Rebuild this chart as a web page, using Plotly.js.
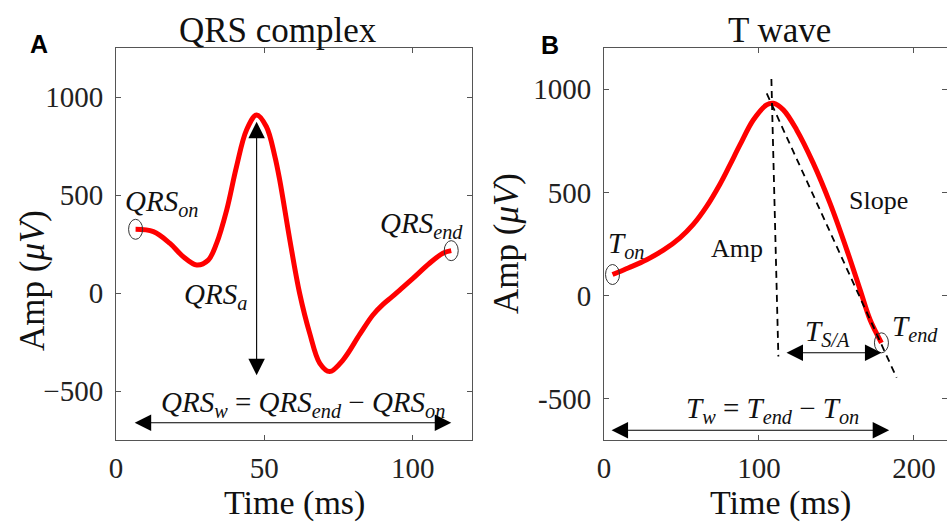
<!DOCTYPE html>
<html>
<head>
<meta charset="utf-8">
<script src="https://cdn.plot.ly/plotly-3.0.1.min.js"></script>
<style>html,body{margin:0;padding:0;background:#fff;}#chart{width:947px;height:525px;}</style>
</head>
<body>
<div id="chart"></div>
<script>
// ---- Data ----
// Panel A: QRS complex
const qrsTime = [6.6, 12.6, 18.2, 22.7, 27.2, 31.1, 33.9, 37.3, 40.6, 44, 47.4, 50.7, 53.5, 55.2, 58.6, 61.9, 65.3, 68.7, 72, 76.5, 82.2, 86.6, 90, 93, 96, 100.1, 105.7, 110.2, 113];
const qrsAmp  = [325, 313, 253, 185, 143, 168, 253, 423, 644, 832, 908, 848, 700, 575, 270, -2, -206, -359, -401, -342, -210, -112, -58, -20, 20, 75, 152, 203, 216];
// Panel B: T wave
const tTime = [5.5, 16, 27.5, 38.3, 49, 57.6, 66, 74.8, 81, 87.7, 96.3, 104.9, 109.2, 115.7, 124.3, 135, 145.8, 156.6, 165.2, 171.6, 179];
const tAmp  = [102, 135, 174, 220, 280, 345, 430, 540, 630, 730, 851, 924, 932, 900, 803, 642, 448, 223, 29, -116, -229];
// Construction lines (panel B)
const ampLineTime = [108, 112.5];
const ampLineAmp  = [1050, -295];
const slopeLineTime = [105, 188.8];
const slopeLineAmp  = [980, -398];
// Measurement arrows
const qrsAArrowTime = 47.4,  qrsAArrowAmp = [874, -427];
const qrsWArrowAmp = -662,   qrsWArrowTime = [5.8, 113];
const tSAArrowAmp = -277,    tSAArrowTime = [116.8, 179];
const tWArrowAmp = -653,     tWArrowTime = [3.9, 184];
// Ticks
const qrsXTicks = [0, 50, 100];
const tXTicks = [0, 100, 200];
const yTicks = [-500, 0, 500, 1000];
const qrsYTickText = ['\u2212500', '0', '500', '1000'];
const tYTickText = ['-500', '0', '500', '1000'];

const SERIF = '"Liberation Serif", "Times New Roman", serif';
const AX = '#555555';

const traces = [
  {x: qrsTime, y: qrsAmp, xaxis: 'x', yaxis: 'y', mode: 'lines',
   line: {color: '#ff0000', width: 5, shape: 'spline', smoothing: 1}, hoverinfo: 'skip'},
  {x: tTime, y: tAmp, xaxis: 'x2', yaxis: 'y2', mode: 'lines',
   line: {color: '#ff0000', width: 5, shape: 'spline', smoothing: 1}, hoverinfo: 'skip'},
  {x: ampLineTime, y: ampLineAmp, xaxis: 'x2', yaxis: 'y2', mode: 'lines',
   line: {color: '#000', width: 1.8, dash: '7px,5px'}, hoverinfo: 'skip'},
  {x: slopeLineTime, y: slopeLineAmp, xaxis: 'x2', yaxis: 'y2', mode: 'lines',
   line: {color: '#000', width: 1.8, dash: '7px,5px'}, hoverinfo: 'skip'}
];

function axisCommon(extra) {
  return Object.assign({
    showline: true, mirror: 'ticks', linecolor: AX, linewidth: 1,
    ticks: 'inside', ticklen: 5, tickcolor: AX, tickwidth: 1,
    showgrid: false, zeroline: false, fixedrange: true,
    tickfont: {family: SERIF, size: 29, color: '#222'}
  }, extra);
}

const px = (p) => p / 947;
const py = (p) => 1 - p / 525;

function arrow(xref, yref, x, y, ax, ay) {
  return {xref: xref, yref: yref, axref: xref, ayref: yref, x: x, y: y, ax: ax, ay: ay,
    text: '', showarrow: true, arrowhead: 2, arrowside: 'end+start', arrowsize: 3,
    arrowwidth: 1.1, arrowcolor: '#000', standoff: 0, startstandoff: 0};
}
function label(xref, yref, x, y, text, size, extra) {
  return Object.assign({xref: xref, yref: yref, x: x, y: y, text: text, showarrow: false,
    font: {family: SERIF, size: size, color: '#111'}, xanchor: 'center', yanchor: 'middle'}, extra || {});
}

const annotations = [
  // panel letters
  {xref: 'paper', yref: 'paper', x: px(28), y: py(28), text: '<b>A</b>', showarrow: false,
   font: {family: '"Liberation Sans", Arial, sans-serif', size: 25, color: '#000'}},
  {xref: 'paper', yref: 'paper', x: px(550), y: py(29), text: '<b>B</b>', showarrow: false,
   font: {family: '"Liberation Sans", Arial, sans-serif', size: 25, color: '#000'}},
  // titles
  label('paper', 'paper', px(277.5), py(30), 'QRS complex', 35),
  label('paper', 'paper', px(779), py(30), 'T wave', 35),
  // axis titles
  label('paper', 'paper', px(294), py(503), 'Time (ms)', 34),
  label('paper', 'paper', px(780), py(503), 'Time (ms)', 34),
  label('paper', 'paper', px(32), py(281), 'Amp (<i>\u03bcV</i>)', 35, {textangle: -90}),
  label('paper', 'paper', px(507), py(244), 'Amp (<i>\u03bcV</i>)', 35, {textangle: -90}),
  // panel A labels
  label('x', 'y', 2.4, 459, '<i>QRS</i><sub><i>on</i></sub>', 29, {xanchor: 'left'}),
  label('x', 'y', 117.5, 347, '<i>QRS</i><sub><i>end</i></sub>', 29, {xanchor: 'right'}),
  label('x', 'y', 33.5, -15, '<i>QRS</i><sub><i>a</i></sub>', 29),
  label('x', 'y', 63.1, -566, '<i>QRS</i><sub><i>w</i></sub> = <i>QRS</i><sub><i>end</i></sub> \u2212 <i>QRS</i><sub><i>on</i></sub>', 29),
  // panel B labels
  label('x2', 'y2', 13.9, 247, '<i>T</i><sub><i>on</i></sub>', 29),
  label('x2', 'y2', 86.1, 227, 'Amp', 26),
  label('x2', 'y2', 176.8, 460, 'Slope', 26),
  label('x2', 'y2', 144.2, -179, '<i>T</i><sub><i>S/A</i></sub>', 29),
  label('x2', 'y2', 200.6, -155, '<i>T</i><sub><i>end</i></sub>', 29),
  label('x2', 'y2', 108.7, -556, '<i>T</i><sub><i>w</i></sub> = <i>T</i><sub><i>end</i></sub> \u2212 <i>T</i><sub><i>on</i></sub>', 29),
  // arrows
  arrow('x', 'y', qrsAArrowTime, qrsAArrowAmp[0], qrsAArrowTime, qrsAArrowAmp[1]),
  arrow('x', 'y', qrsWArrowTime[1], qrsWArrowAmp, qrsWArrowTime[0], qrsWArrowAmp),
  arrow('x2', 'y2', tSAArrowTime[1], tSAArrowAmp, tSAArrowTime[0], tSAArrowAmp),
  arrow('x2', 'y2', tWArrowTime[1], tWArrowAmp, tWArrowTime[0], tWArrowAmp)
];

function ring(xref, yref, x, y) {
  return {type: 'circle', xref: xref, yref: yref, xsizemode: 'pixel', ysizemode: 'pixel',
    xanchor: x, yanchor: y, x0: -7, x1: 7, y0: -10, y1: 10,
    line: {color: '#333', width: 1}, fillcolor: 'rgba(0,0,0,0)'};
}
const shapes = [
  ring('x', 'y', qrsTime[0], qrsAmp[0]),
  ring('x', 'y', qrsTime[qrsTime.length - 1], qrsAmp[qrsAmp.length - 1]),
  ring('x2', 'y2', tTime[0], tAmp[0]),
  ring('x2', 'y2', tTime[tTime.length - 1], tAmp[tAmp.length - 1])
];

const layout = {
  width: 947, height: 525,
  margin: {l: 0, r: 0, t: 0, b: 0},
  font: {family: SERIF, color: '#222'},
  paper_bgcolor: '#fff', plot_bgcolor: '#fff',
  showlegend: false,
  xaxis: axisCommon({domain: [116/947, 472/947], range: [0, 120], tickvals: qrsXTicks, anchor: 'y', ticklabelstandoff: 2}),
  yaxis: axisCommon({domain: [1 - 440/525, 1 - 48/525], range: [-750, 1250], tickvals: yTicks, ticktext: qrsYTickText, anchor: 'x', ticklabelstandoff: 6}),
  xaxis2: axisCommon({domain: [604/947, 1], range: [0, 221.3], tickvals: tXTicks, anchor: 'y2', ticklabelstandoff: 2}),
  yaxis2: axisCommon({domain: [1 - 440/525, 1 - 48/525], range: [-700, 1200], tickvals: yTicks, ticktext: tYTickText, anchor: 'x2', ticklabelstandoff: 6}),
  annotations: annotations,
  shapes: shapes
};

Plotly.newPlot('chart', traces, layout, {staticPlot: true, displayModeBar: false});
</script>
</body>
</html>
